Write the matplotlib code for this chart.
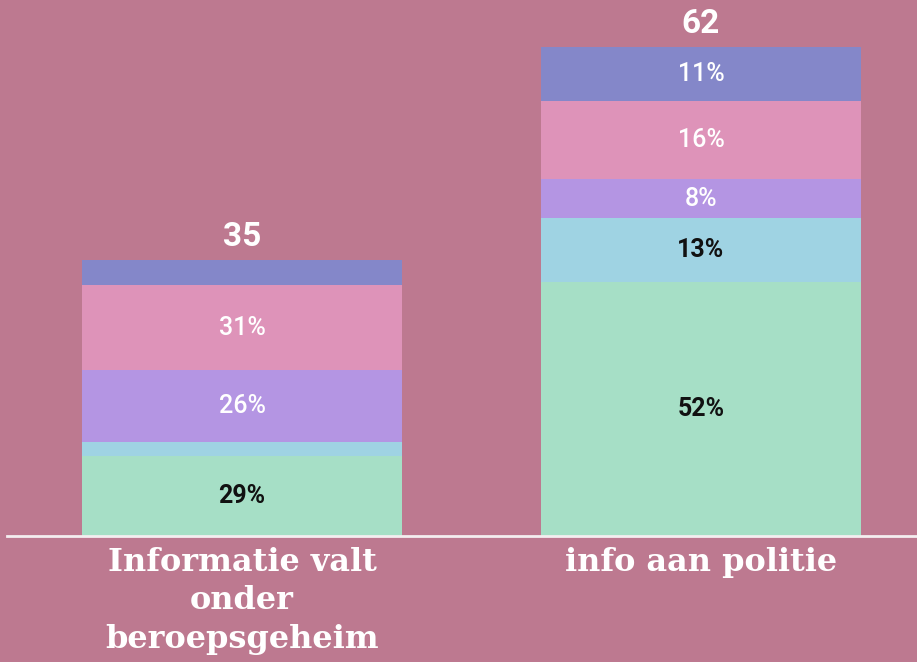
import matplotlib.pyplot as plt

# data
categories = ["Informatie valt\nonder\nberoepsgeheim", "info aan politie"]
totals = [35, 62]
# share (%) of each segment, bottom to top
green_pct = [29, 52]
cyan_pct = [5, 13]
purple_pct = [26, 8]
pink_pct = [31, 16]
blue_pct = [9, 11]

BG = "#bd7990"
segments = [
    (green_pct, "#a6dfc6", "#111111"),
    (cyan_pct, "#9fd3e3", "#111111"),
    (purple_pct, "#b495e3", "white"),
    (pink_pct, "#de93b9", "white"),
    (blue_pct, "#8487c9", "white"),
]

fig = plt.figure(figsize=(9.17, 6.62), dpi=100, facecolor=BG)
ax = fig.add_axes([7 / 917, 126 / 662, 910 / 917, 536 / 662])
ax.set_facecolor(BG)

x = list(range(len(categories)))
bottoms = [0.0] * len(categories)
for pct, color, txt_color in segments:
    heights = [t * p / 100 for t, p in zip(totals, pct)]
    ax.bar(x, heights, bottom=bottoms, width=0.697, color=color, linewidth=0)
    weight = "bold" if txt_color != "white" else "medium"
    for xi, b, h, p in zip(x, bottoms, heights, pct):
        if h >= 4:
            ax.text(xi, b + h / 2, f"{p}%", ha="center", va="center",
                    color=txt_color, fontsize=18, family="Roboto",
                    fontweight=weight)
    bottoms = [b + h for b, h in zip(bottoms, heights)]

for xi, t in zip(x, totals):
    ax.text(xi, t + 0.9, str(t), ha="center", va="bottom", color="white",
            fontsize=24, family="Roboto", fontweight="bold")

ax.set_xlim(-0.512, 1.4706)
ax.set_ylim(0, 67.96)
ax.axhline(0, color="#f4eef0", linewidth=2, clip_on=False)

for side in ["top", "right", "left", "bottom"]:
    ax.spines[side].set_visible(False)
ax.set_yticks([])
ax.set_xticks(x)
ax.set_xticklabels(categories, color="white", fontsize=23, fontweight="bold",
                   family="DejaVu Serif", linespacing=1.3,
                   multialignment="center")
ax.tick_params(axis="x", length=0, pad=8)

fig.savefig("out.png", dpi=100, facecolor=BG)
